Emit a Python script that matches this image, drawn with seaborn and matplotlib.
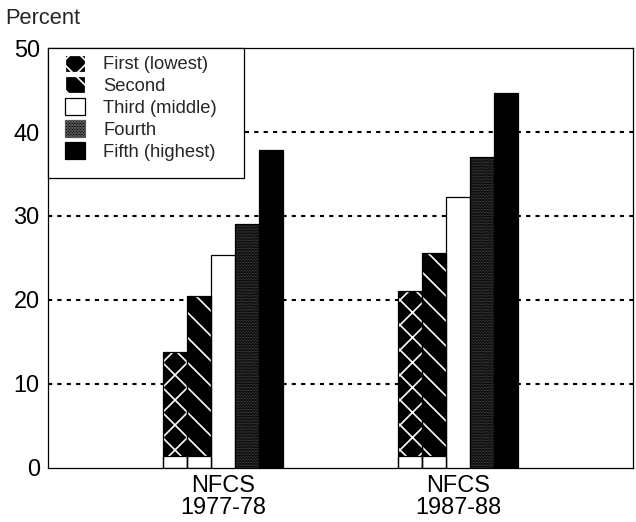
import matplotlib
matplotlib.use("Agg")
import matplotlib.pyplot as plt
import seaborn as sns
import pandas as pd
from matplotlib.patches import Rectangle, Patch

surveys = ["NFCS\n1977-78", "NFCS\n1987-88"]
quintiles = ["First (lowest)", "Second", "Third (middle)", "Fourth", "Fifth (highest)"]
pct_1977 = [13.8, 20.4, 25.3, 29.0, 37.9]
pct_1987 = [21.1, 25.6, 32.3, 37.0, 44.7]
y_ticks = [0, 10, 20, 30, 40, 50]

rows = []
for s, vals in zip(surveys, [pct_1977, pct_1987]):
    for q, v in zip(quintiles, vals):
        rows.append({"survey": s, "quintile": q, "pct": v})
df = pd.DataFrame(rows)

sns.set_theme(style="white")
plt.rcParams["font.family"] = ["Liberation Sans", "DejaVu Sans"]
plt.rcParams["hatch.linewidth"] = 0.8

DPI = 150
fig = plt.figure(figsize=(636 / DPI, 522 / DPI), dpi=DPI)
fig.patch.set_facecolor("white")
ax = fig.add_axes([0.0755, 0.1044, 0.9198, 0.8031])

styles = {
    "First (lowest)": dict(face="black", hatch="xx", hc="white", hlw=0.8),
    "Second": dict(face="black", hatch="\\\\", hc="white", hlw=0.8),
    "Third (middle)": dict(face="white", hatch=None, hc=None, hlw=None),
    "Fourth": dict(face="black", hatch="." * 16, hc="#5a5a5a", hlw=0.35),
    "Fifth (highest)": dict(face="black", hatch=None, hc=None, hlw=None),
}
BASE_GAP = 1.4
EDGE_LW = 0.6

sns.barplot(data=df, x="survey", y="pct", hue="quintile", order=surveys,
            hue_order=quintiles, palette=[styles[q]["face"] for q in quintiles],
            width=0.51, saturation=1, edgecolor="black", linewidth=EDGE_LW,
            legend=False, ax=ax, zorder=3, errorbar=None)


def style_hatch(p, st):
    p.set_hatch(st["hatch"])
    p.set_edgecolor(st["hc"])
    p.set_linewidth(0)
    if hasattr(p, "set_hatch_linewidth"):
        p.set_hatch_linewidth(st["hlw"])


for q, cont in zip(quintiles, ax.containers):
    st = styles[q]
    for p in cont.patches:
        if st["hatch"]:
            x, w, h = p.get_x(), p.get_width(), p.get_height()
            if q in ("First (lowest)", "Second"):
                p.set_y(BASE_GAP)
                p.set_height(h - BASE_GAP)
                ax.add_patch(Rectangle((x, 0), w, BASE_GAP, facecolor="white",
                                       edgecolor="black", lw=EDGE_LW, zorder=3))
            style_hatch(p, st)
            ax.add_patch(Rectangle((x, 0), w, h, fill=False, edgecolor="black",
                                   lw=EDGE_LW, zorder=4))

ax.set_xlim(-0.745, 1.745)
ax.set_ylim(0, 50)
ax.set_yticks(y_ticks)
ax.set_xlabel("")
ax.set_ylabel("")
ax.grid(False)
for yv in y_ticks[1:-1]:
    ax.axhline(yv, color="black", linestyle=(0, (2, 2.5)), linewidth=1.0, zorder=1)
ax.tick_params(axis="both", length=0, labelsize=11.3, colors="black")
ax.tick_params(axis="y", pad=4.0)
ax.tick_params(axis="x", pad=3.5)
for t in ax.get_xticklabels():
    t.set_linespacing(1.0)
for sp in ax.spines.values():
    sp.set_visible(True)
    sp.set_color("black")
    sp.set_linewidth(0.6)

fig.text(5 / 636, 1 - 18 / 522, "Percent", ha="left", va="center", fontsize=10.5)

# legend frame (white box flush with the upper-left corner)
ax.add_patch(Rectangle((0, 0.690), 0.335, 0.310, transform=ax.transAxes,
                       facecolor="white", edgecolor="black", lw=0.6, zorder=4.9,
                       clip_on=False))
handles = []
for q in quintiles:
    st = styles[q]
    if st["hatch"]:
        hp = Patch(facecolor=st["face"], edgecolor=st["hc"], hatch=st["hatch"], lw=0.6)
    else:
        hp = Patch(facecolor=st["face"], edgecolor="black", lw=0.6)
    handles.append(hp)
leg = ax.legend(handles, quintiles, loc="upper left", bbox_to_anchor=(0.029, 0.985),
                borderaxespad=0, frameon=False, fontsize=8.8, handlelength=1.1,
                handleheight=1.05, handletextpad=1.0, labelspacing=0.17, borderpad=0)
leg.set_zorder(5)

fig.savefig("out.png", dpi=DPI, facecolor="white")
